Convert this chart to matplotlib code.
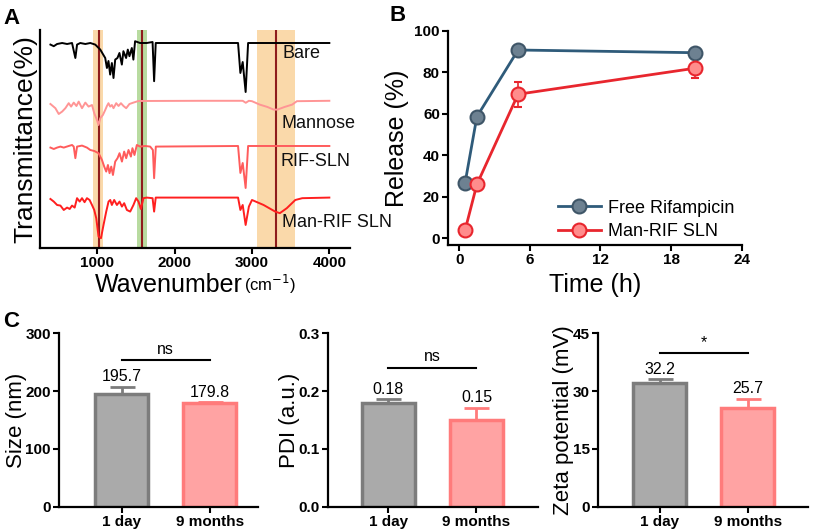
import numpy as np
import matplotlib
matplotlib.use("Agg")
import matplotlib.pyplot as plt

plt.rcParams['font.family'] = ['Liberation Sans', 'DejaVu Sans']

# ---- Panel A: FTIR spectra (wavenumber, offset transmittance a.u.)
bare_wn = [395, 438, 481, 546, 610, 674, 717, 739, 781, 846, 910, 974, 1039, 1103, 1125, 1145,
           1167, 1189, 1210, 1232, 1261, 1287, 1318, 1338, 1373, 1395, 1416, 1447, 1467, 1489,
           1553, 1640, 1715, 1735, 1756, 1811, 2820, 2850, 2880, 2918, 2950, 4000]
bare_t = [101.7, 100.9, 102.0, 102.5, 102.0, 102.5, 95.0, 101.7, 102.5, 102.0, 102.5, 101.7, 99.2,
          95.0, 90.0, 93.5, 86.7, 92.5, 85.0, 94.2, 95.0, 97.5, 91.7, 98.4, 95.0, 99.2, 95.9, 100.0,
          94.2, 103.4, 102.5, 102.5, 103.0, 83.4, 102.5, 102.5, 102.5, 87.5, 93.0, 78.0, 102.5, 102.5]

mannose_wn = [395, 459, 502, 546, 588, 631, 662, 696, 731, 760, 803, 846, 888, 932, 961, 996,
              1017, 1039, 1073, 1103, 1125, 1145, 1167, 1189, 1210, 1245, 1275, 1306, 1339, 1374,
              1416, 1468, 1533, 2350, 2880, 2920, 2960, 3000, 3100, 3200, 3280, 3330, 3420, 3520,
              3580, 4000]
mannose_t = [72.0, 69.9, 67.0, 68.2, 69.9, 72.4, 70.7, 72.7, 71.0, 73.2, 69.9, 72.7, 70.7, 71.5,
             67.4, 64.0, 61.5, 64.9, 66.5, 69.0, 71.0, 72.4, 70.7, 71.5, 69.9, 72.4, 71.0, 72.4,
             71.0, 69.9, 72.0, 72.7, 73.5, 73.6, 73.6, 72.6, 73.6, 73.4, 71.7, 70.5, 69.2, 69.2,
             70.5, 71.7, 73.4, 73.6]

rif_wn = [395, 438, 481, 524, 567, 631, 674, 696, 717, 739, 803, 867, 910, 961, 1017, 1061, 1090,
          1116, 1138, 1159, 1181, 1203, 1232, 1262, 1288, 1319, 1348, 1374, 1404, 1435, 1455,
          1481, 1512, 1555, 1619, 1684, 1719, 1735, 1757, 2820, 2850, 2880, 2918, 2950, 4000]
rif_t = [50.2, 49.5, 50.2, 50.7, 50.2, 51.0, 51.5, 50.7, 44.9, 50.7, 51.2, 50.2, 49.0, 48.5, 47.4,
         44.0, 40.7, 38.2, 41.5, 37.4, 40.7, 36.5, 43.2, 44.9, 47.4, 43.2, 48.2, 44.9, 49.0, 45.7,
         49.9, 46.5, 51.5, 50.7, 51.0, 50.7, 49.0, 34.9, 50.7, 51.0, 37.5, 42.5, 30.0, 51.0, 51.0]

manrif_wn = [395, 438, 481, 524, 567, 610, 644, 674, 708, 739, 773, 803, 836, 867, 901, 932, 961,
             987, 1017, 1048, 1081, 1116, 1146, 1168, 1189, 1219, 1254, 1288, 1319, 1348, 1383,
             1426, 1468, 1503, 1533, 1564, 1597, 1641, 1715, 1735, 1756, 2820, 2850, 2880, 2918,
             2960, 3000, 3150, 3300, 3360, 3450, 3560, 3650, 4000]
manrif_t = [24.5, 23.2, 21.5, 21.2, 19.0, 20.2, 19.5, 21.2, 20.2, 24.9, 23.2, 24.9, 22.9, 24.9,
            24.0, 21.5, 19.0, 14.9, 5.7, 4.9, 11.5, 18.2, 23.2, 24.0, 21.5, 24.0, 21.5, 23.2, 20.7,
            22.4, 19.0, 18.2, 21.5, 24.9, 23.2, 19.5, 24.9, 25.2, 24.9, 18.2, 25.2, 25.2, 19.0,
            21.5, 11.5, 20.7, 24.0, 21.5, 18.2, 17.4, 19.9, 24.0, 24.9, 25.2]

trace_names = ["Bare", "Mannose", "RIF-SLN", "Man-RIF SLN"]
trace_colors = ["#000000", "#ff9595", "#ff5c5c", "#ff1f1f"]
label_wn = [3390, 3377, 3365, 3387]
label_t = [97.3, 62.0, 43.2, 12.8]

bands = [(950, 1077, "#fad9aa"), (1515, 1645, "#b8dba0"), (3070, 3560, "#fad9aa")]
band_lines = [1025, 1580, 3305]

# ---- Panel B: release profile
time_h = [0.5, 1.5, 5, 20]
free_rif = [26.8, 58.6, 90.7, 89.4]
free_rif_err = [0.8, 0.8, 0.6, 0.6]
man_rif = [4.0, 26.0, 69.4, 81.9]
man_rif_err = [1.0, 0.8, 6.0, 4.6]

# ---- Panel C: stability
groups = ["1 day", "9 months"]
size_nm = [195.7, 179.8]
size_err = [12.0, 1.0]
pdi = [0.18, 0.15]
pdi_err = [0.006, 0.021]
zeta = [32.2, 25.7]
zeta_err = [0.8, 2.3]

fig = plt.figure(figsize=(8.13, 5.31), dpi=100)

# Panel A
axA = fig.add_axes([0.0492, 0.533, 0.3813, 0.4105])
for lo, hi, c in bands:
    axA.axvspan(lo, hi, color=c, lw=0, zorder=0)
for wn in band_lines:
    axA.axvline(wn, color="#8e1c1c", lw=1.5, zorder=1)
for wn, t, c in zip([bare_wn, mannose_wn, rif_wn, manrif_wn],
                    [bare_t, mannose_t, rif_t, manrif_t], trace_colors):
    axA.plot(wn, t, color=c, lw=1.4, zorder=2)
for name, x, y in zip(trace_names, label_wn, label_t):
    axA.text(x, y, name, fontsize=13, va="center", ha="left", color="#111111")
axA.set_xlim(260, 4267)
axA.set_ylim(0, 109)
axA.set_xticks([1000, 2000, 3000, 4000])
axA.set_yticks([])
for s in ["top", "right"]:
    axA.spines[s].set_visible(False)
for s in ["left", "bottom"]:
    axA.spines[s].set_linewidth(1.6)
axA.tick_params(axis="x", direction="out", length=4, width=1.5, labelsize=11, pad=2)
for lab in axA.get_xticklabels():
    lab.set_fontweight("bold")
axA.set_ylabel("Transmittance(%)", fontsize=19, labelpad=2)
wl = axA.text(0.178, -0.115, "Wavenumber", transform=axA.transAxes, fontsize=18,
              ha="left", va="top")
axA.annotate("(cm$^{-1}$)", xy=(1, 0), xycoords=wl, xytext=(1, 1),
             textcoords="offset points", fontsize=12, ha="left", va="bottom")

# Panel B
axB = fig.add_axes([0.5514, 0.5386, 0.3609, 0.4036])
eb1 = axB.errorbar(time_h, free_rif, yerr=free_rif_err, color="#2f5b7a", lw=2,
                   marker="o", ms=10, mfc="#6d8191", mec="#3f5668", mew=1.5,
                   capsize=3, ecolor="#3f5668", elinewidth=1.2)
eb2 = axB.errorbar(time_h, man_rif, yerr=man_rif_err, color="#e8262e", lw=2,
                   marker="o", ms=10, mfc="#ff8c8c", mec="#e8262e", mew=1.5,
                   capsize=3, ecolor="#e8262e", elinewidth=1.2)
axB.set_xlim(-0.93, 24)
axB.set_ylim(-3.2, 100)
axB.set_xticks([0, 6, 12, 18, 24])
axB.set_yticks([0, 20, 40, 60, 80, 100])
for s in ["top", "right"]:
    axB.spines[s].set_visible(False)
for s in ["left", "bottom"]:
    axB.spines[s].set_linewidth(1.6)
axB.tick_params(direction="out", length=4, width=1.5, labelsize=11, pad=2)
for lab in axB.get_xticklabels() + axB.get_yticklabels():
    lab.set_fontweight("bold")
axB.set_xlabel("Time (h)", fontsize=18, labelpad=4)
axB.set_ylabel("Release (%)", fontsize=18, labelpad=4)
axB.legend(handles=[eb1[0], eb2[0]], labels=["Free Rifampicin", "Man-RIF SLN"],
           loc="lower right", frameon=False, fontsize=13, handlelength=2.4,
           handletextpad=0.4, borderaxespad=0.0, labelspacing=0.35,
           bbox_to_anchor=(1.0, -0.01))

# Panel C
bar_face = ["#aaaaaa", "#ffa3a3"]
bar_edge = ["#7c7c7c", "#ff7b7b"]
c_specs = [
    (0.0729, 0.2444, (-0.71, 1.55), size_nm, size_err, [0, 100, 200, 300], (0, 300),
     "Size (nm)", ["195.7", "179.8"], 253.8, "ns", "{:.0f}"),
    (0.4031, 0.2587, (-0.69, 1.70), pdi, pdi_err, [0.0, 0.1, 0.2, 0.3], (0, 0.3),
     "PDI (a.u.)", ["0.18", "0.15"], 0.24, "ns", "{:.1f}"),
    (0.7359, 0.2583, (-0.70, 1.69), zeta, zeta_err, [0, 15, 30, 45], (0, 45),
     "Zeta potential (mV)", ["32.2", "25.7"], 39.8, "*", "{:.0f}"),
]
for left, width, xl, vals, errs, yt, yl, ylab, txts, sig_y, sig, fmt in c_specs:
    ax = fig.add_axes([left, 0.0461, width, 0.3262])
    xpos = np.arange(len(groups))
    for i in range(len(groups)):
        ax.bar(xpos[i], vals[i], width=0.6, color=bar_face[i], edgecolor=bar_edge[i],
               linewidth=2.5, zorder=2)
        ax.errorbar(xpos[i], vals[i], yerr=[[0], [errs[i]]], color=bar_edge[i],
                    capsize=9, elinewidth=2, capthick=2, zorder=1)
    span = yl[1] - yl[0]
    for i in range(len(groups)):
        ax.text(xpos[i], vals[i] + errs[i] + span * 0.015, txts[i], ha="center",
                va="bottom", fontsize=11.5)
    ax.plot([0, 1], [sig_y, sig_y], color="black", lw=1.5)
    ax.text(0.5, sig_y + span * 0.02, sig, ha="center", va="bottom", fontsize=11.5)
    ax.set_xlim(*xl)
    ax.set_ylim(*yl)
    ax.set_yticks(yt)
    ax.set_yticklabels([fmt.format(v) for v in yt])
    ax.set_xticks(xpos)
    ax.set_xticklabels(groups)
    for s in ["top", "right"]:
        ax.spines[s].set_visible(False)
    for s in ["left", "bottom"]:
        ax.spines[s].set_linewidth(1.6)
    ax.tick_params(direction="out", length=4, width=1.5, labelsize=11, pad=2)
    for lab in ax.get_xticklabels() + ax.get_yticklabels():
        lab.set_fontweight("bold")
    ax.set_ylabel(ylab, fontsize=16, labelpad=-1)

fig.text(0.004, 0.985, "A", fontsize=16, fontweight="bold", va="top", ha="left")
fig.text(0.479, 0.99, "B", fontsize=16, fontweight="bold", va="top", ha="left")
fig.text(0.004, 0.415, "C", fontsize=16, fontweight="bold", va="top", ha="left")

fig.savefig("out.png", dpi=100)
